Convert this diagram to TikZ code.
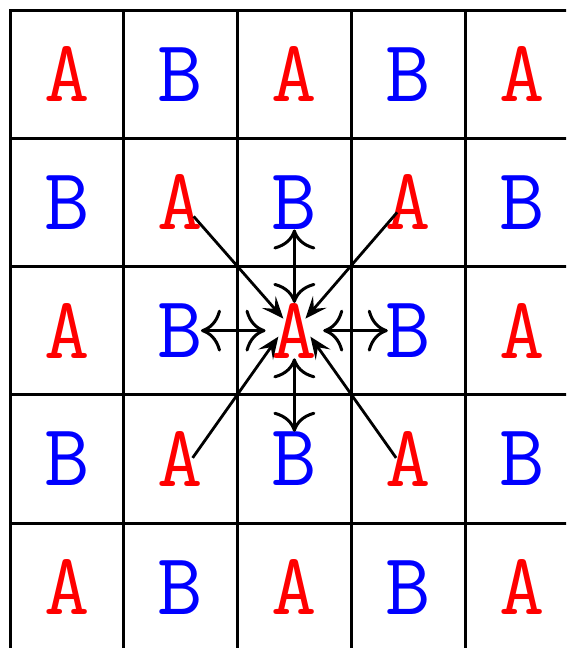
\documentclass[tikz,border=0pt]{standalone}
\usetikzlibrary{arrows.meta}
\begin{document}
\begin{tikzpicture}[x=1pt,y=-1pt,
  gridline/.style={line width=3pt,line cap=rect},
  lettera/.style={text=red,inner sep=0pt,font=\ttfamily\fontsize{88}{88}\selectfont},
  letterb/.style={text=blue,inner sep=0pt,font=\ttfamily\fontsize{88}{88}\selectfont},
  orth/.style={line width=3pt,{To[length=20pt,width=42pt]}-{To[length=20pt,width=42pt]}},
  diag/.style={line width=2.8pt,-{Stealth[length=22pt,width=18pt,inset=9pt]}}]
\useasboundingbox (0,0) rectangle (566,648);
\clip (0,0) rectangle (566,648);
\foreach \i in {0,...,5}{
  \draw[gridline] ({10+113.75*\i},10) -- ({10+113.75*\i},660);
  \draw[gridline] (10,{10+128.25*\i}) -- (580,{10+128.25*\i});
}
\foreach \i in {0,...,4}{
  \foreach \j in {0,...,4}{
    \pgfmathtruncatemacro{\p}{mod(\i+\j,2)}
    \ifnum\p=0
      \node[lettera] (c\i\j) at ({10+113.75*(\i+0.5)},{10+128.25*(\j+0.5)}) {A};
    \else
      \node[letterb] (c\i\j) at ({10+113.75*(\i+0.5)},{10+128.25*(\j+0.5)}) {B};
    \fi
  }
}
\draw[orth,shorten <=0pt,shorten >=0pt] (c22) -- (c21);
\draw[orth,shorten <=0pt,shorten >=0pt] (c22) -- (c23);
\draw[orth,shorten <=6pt,shorten >=-2.5pt] (c22) -- (c12);
\draw[orth,shorten <=6pt,shorten >=-2.5pt] (c22) -- (c32);
\draw[diag] ([shift={(13,14)}]c11.center) -- ([shift={(-11,-12)}]c22.center);
\draw[diag] ([shift={(-11,10)}]c31.center) -- ([shift={(11,-12)}]c22.center);
\draw[diag] ([shift={(12,-1)}]c13.center) -- ([shift={(-16,6)}]c22.center);
\draw[diag] ([shift={(-12,-1)}]c33.center) -- ([shift={(16,6)}]c22.center);
\end{tikzpicture}
\end{document}
